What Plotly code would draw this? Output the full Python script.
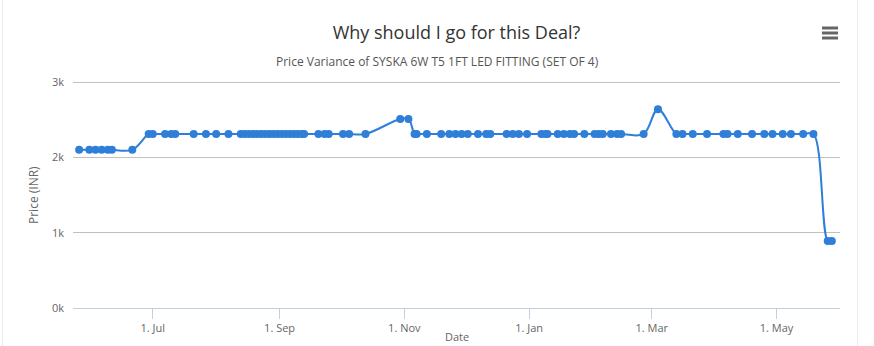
import plotly.graph_objects as go

# ---- data ----
dates = [
    "2015-05-26", "2015-05-31", "2015-06-03", "2015-06-06", "2015-06-09", "2015-06-11", "2015-06-21",
    "2015-06-29", "2015-07-01", "2015-07-07", "2015-07-10", "2015-07-12", "2015-07-21", "2015-07-27",
    "2015-08-01", "2015-08-07", "2015-08-13", "2015-08-15", "2015-08-17", "2015-08-19", "2015-08-21",
    "2015-08-23", "2015-08-25", "2015-08-27", "2015-08-29", "2015-08-31", "2015-09-02", "2015-09-04",
    "2015-09-06", "2015-09-08", "2015-09-10", "2015-09-12", "2015-09-13", "2015-09-20", "2015-09-23",
    "2015-09-25", "2015-10-02", "2015-10-05", "2015-10-13",
    "2015-10-30", "2015-11-03",
    "2015-11-06", "2015-11-07", "2015-11-12", "2015-11-19", "2015-11-23", "2015-11-26", "2015-11-29",
    "2015-12-02", "2015-12-07", "2015-12-11", "2015-12-13", "2015-12-21", "2015-12-24", "2015-12-27",
    "2015-12-31", "2016-01-07", "2016-01-09", "2016-01-10", "2016-01-15", "2016-01-18", "2016-01-21",
    "2016-01-23", "2016-01-28", "2016-02-02", "2016-02-04", "2016-02-06", "2016-02-10", "2016-02-13",
    "2016-02-15", "2016-02-26",
    "2016-03-04",
    "2016-03-13", "2016-03-16", "2016-03-21", "2016-03-28", "2016-04-05", "2016-04-07", "2016-04-12",
    "2016-04-19", "2016-04-25", "2016-04-29", "2016-05-04", "2016-05-08", "2016-05-14", "2016-05-19",
    "2016-05-26", "2016-05-28",
]
prices = [
    2100, 2100, 2100, 2100, 2100, 2100, 2100,
    2310, 2310, 2310, 2310, 2310, 2310, 2310,
    2310, 2310, 2310, 2310, 2310, 2310, 2310,
    2310, 2310, 2310, 2310, 2310, 2310, 2310,
    2310, 2310, 2310, 2310, 2310, 2310, 2310,
    2310, 2310, 2310, 2310,
    2510, 2510,
    2310, 2310, 2310, 2310, 2310, 2310, 2310,
    2310, 2310, 2310, 2310, 2310, 2310, 2310,
    2310, 2310, 2310, 2310, 2310, 2310, 2310,
    2310, 2310, 2310, 2310, 2310, 2310, 2310,
    2310, 2310,
    2640,
    2310, 2310, 2310, 2310, 2310, 2310, 2310,
    2310, 2310, 2310, 2310, 2310, 2310, 2310,
    890, 890,
]
y_tickvals = [0, 1000, 2000, 3000]
y_ticktext = ["0k", "1k", "2k", "3k"]
x_tickvals = ["2015-07-01", "2015-09-01", "2015-11-01", "2016-01-01", "2016-03-01", "2016-05-01"]
x_ticktext = ["1. Jul", "1. Sep", "1. Nov", "1. Jan", "1. Mar", "1. May"]

title_text = "Why should I go for this Deal?"
subtitle_text = "Price Variance of SYSKA 6W T5 1FT LED FITTING (SET OF 4)"
x_title = "Date"
y_title = "Price (INR)"

W, H = 874, 346
ML, MR, MT, MB = 73, 34, 79, 38
PW = W - ML - MR
PH = H - MT - MB

def px(x):
    return (x - ML) / PW

def py(y):
    return (H - MB - y) / PH

FONT = "Open Sans"
BLUE = "#2f7ed8"

fig = go.Figure()
fig.add_trace(go.Scatter(
    x=dates, y=prices, mode="lines+markers",
    line=dict(color=BLUE, width=2, shape="spline", smoothing=1.0),
    marker=dict(color=BLUE, size=8),
    showlegend=False,
    hoverinfo="x+y",
))

shapes = []
# container borders
for xpix in (2.5, 857.5):
    shapes.append(dict(type="line", xref="paper", yref="paper",
                       x0=px(xpix), x1=px(xpix), y0=py(0), y1=py(H),
                       line=dict(color="#ececec", width=1)))
# hamburger menu icon
for yy in (28, 33, 38):
    shapes.append(dict(type="line", xref="paper", yref="paper",
                       x0=px(822), x1=px(838), y0=py(yy), y1=py(yy),
                       line=dict(color="#666666", width=3)))

fig.update_layout(
    width=W, height=H,
    margin=dict(l=ML, r=MR, t=MT, b=MB, autoexpand=False),
    paper_bgcolor="white", plot_bgcolor="white",
    font=dict(family=FONT, color="#666666", size=11),
    title=dict(text=title_text, x=0.5, xref="paper", xanchor="center",
               y=1 - 33 / H, yref="container", yanchor="middle",
               font=dict(size=18, color="#333333", family=FONT)),
    annotations=[
        dict(text=subtitle_text, xref="paper", yref="paper",
             x=px(437), y=py(61), xanchor="center", yanchor="middle",
             showarrow=False, font=dict(size=12, color="#555555", family=FONT)),
        dict(text=x_title, xref="paper", yref="paper",
             x=px(457), y=py(346), xanchor="center", yanchor="bottom",
             showarrow=False, font=dict(size=11, color="#666666", family=FONT)),
        dict(text=y_title, xref="paper", yref="paper", textangle=-90,
             x=px(33), y=py(195), xanchor="center", yanchor="middle",
             showarrow=False, font=dict(size=12, color="#666666", family=FONT)),
    ],
    shapes=shapes,
    xaxis=dict(
        type="date", automargin=False,
        range=["2015-05-23", "2016-06-01"],
        tickvals=x_tickvals, ticktext=x_ticktext,
        showgrid=False, zeroline=False,
        showline=True, linecolor="#c0d0e0", linewidth=1,
        ticks="outside", ticklen=10, tickcolor="#c0d0e0",
        tickfont=dict(size=11, color="#666666"),
    ),
    yaxis=dict(
        automargin=False,
        range=[0, 3040],
        tickvals=y_tickvals, ticktext=y_ticktext,
        showgrid=True, gridcolor="#c0c0c0", gridwidth=1,
        zeroline=False, showline=False, ticks="",
        ticklabelstandoff=8,
        tickfont=dict(size=11, color="#666666"),
    ),
)

fig.write_html("out.html")
